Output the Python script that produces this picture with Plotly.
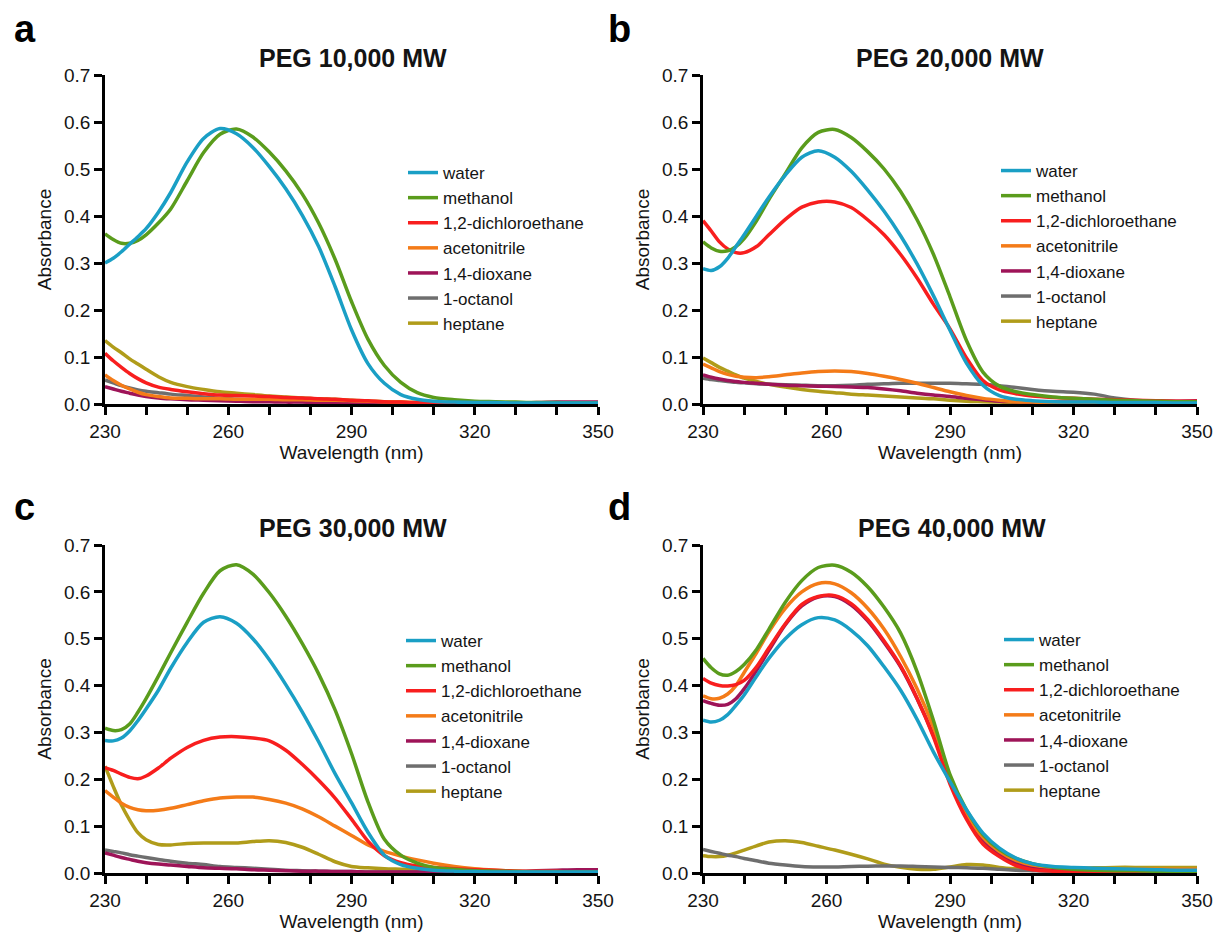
import plotly.graph_objects as go

# ---------------- data ----------------
WL = [230, 232, 234, 236, 238, 240, 243, 246, 250, 254, 258, 262, 266, 270, 274, 278,
      282, 286, 290, 294, 298, 302, 306, 310, 315, 320, 325, 330, 335, 340, 345, 350]

SOLVENTS = ["water", "methanol", "1,2-dichloroethane", "acetonitrile",
            "1,4-dioxane", "1-octanol", "heptane"]
COLORS = ["#1A9FC5", "#5A9C1C", "#F81E1E", "#F47B18", "#9E1458", "#6E6E6E", "#B09C1A"]

PANEL_TITLES = ["PEG 10,000 MW", "PEG 20,000 MW", "PEG 30,000 MW", "PEG 40,000 MW"]
PANEL_LETTERS = ["a", "b", "c", "d"]
X_TITLE = "Wavelength (nm)"
Y_TITLE = "Absorbance"

# PEG 10,000
water_a = [0.300, 0.310, 0.324, 0.340, 0.356, 0.373, 0.408, 0.450, 0.515, 0.565, 0.586, 0.575, 0.546, 0.505, 0.458, 0.402,
           0.335, 0.250, 0.158, 0.086, 0.044, 0.020, 0.010, 0.006, 0.004, 0.003, 0.003, 0.002, 0.002, 0.002, 0.002, 0.002]
methanol_a = [0.362, 0.350, 0.342, 0.342, 0.348, 0.360, 0.385, 0.415, 0.475, 0.535, 0.574, 0.585, 0.568, 0.536, 0.496, 0.447,
              0.385, 0.308, 0.218, 0.138, 0.082, 0.046, 0.024, 0.014, 0.009, 0.006, 0.005, 0.004, 0.003, 0.003, 0.002, 0.002]
dce_a = [0.108, 0.092, 0.078, 0.065, 0.054, 0.045, 0.036, 0.031, 0.026, 0.022, 0.019, 0.018, 0.017, 0.016, 0.014, 0.013,
         0.011, 0.010, 0.008, 0.007, 0.005, 0.004, 0.003, 0.003, 0.002, 0.002, 0.001, 0.001, 0.001, 0.001, 0.001, 0.001]
acn_a = [0.062, 0.050, 0.040, 0.032, 0.025, 0.020, 0.016, 0.013, 0.012, 0.011, 0.011, 0.010, 0.010, 0.010, 0.009, 0.009,
         0.008, 0.008, 0.007, 0.006, 0.005, 0.004, 0.003, 0.003, 0.002, 0.002, 0.002, 0.002, 0.002, 0.002, 0.002, 0.002]
diox_a = [0.037, 0.032, 0.027, 0.023, 0.019, 0.016, 0.013, 0.011, 0.009, 0.008, 0.007, 0.006, 0.005, 0.005, 0.004, 0.004,
          0.003, 0.003, 0.002, 0.002, 0.002, 0.002, 0.002, 0.002, 0.002, 0.002, 0.002, 0.002, 0.003, 0.004, 0.004, 0.004]
oct_a = [0.051, 0.045, 0.039, 0.034, 0.030, 0.027, 0.024, 0.021, 0.018, 0.015, 0.012, 0.010, 0.008, 0.007, 0.006, 0.005,
         0.004, 0.003, 0.003, 0.002, 0.002, 0.002, 0.002, 0.002, 0.002, 0.002, 0.002, 0.002, 0.002, 0.002, 0.002, 0.002]
hept_a = [0.135, 0.121, 0.109, 0.096, 0.085, 0.074, 0.058, 0.046, 0.037, 0.031, 0.026, 0.023, 0.020, 0.017, 0.015, 0.013,
          0.011, 0.010, 0.008, 0.006, 0.005, 0.004, 0.003, 0.003, 0.002, 0.002, 0.002, 0.002, 0.002, 0.002, 0.002, 0.002]

# PEG 20,000
water_b = [0.288, 0.284, 0.292, 0.310, 0.335, 0.360, 0.400, 0.440, 0.487, 0.525, 0.539, 0.525, 0.495, 0.455, 0.410, 0.358,
           0.298, 0.230, 0.157, 0.087, 0.040, 0.018, 0.010, 0.007, 0.005, 0.004, 0.004, 0.003, 0.003, 0.003, 0.002, 0.002]
methanol_b = [0.345, 0.332, 0.325, 0.326, 0.335, 0.352, 0.390, 0.435, 0.490, 0.545, 0.578, 0.584, 0.567, 0.537, 0.500, 0.452,
              0.392, 0.318, 0.228, 0.135, 0.068, 0.038, 0.026, 0.020, 0.015, 0.012, 0.010, 0.008, 0.007, 0.006, 0.005, 0.005]
dce_b = [0.390, 0.368, 0.345, 0.330, 0.322, 0.322, 0.335, 0.360, 0.393, 0.419, 0.430, 0.430, 0.418, 0.392, 0.360, 0.318,
         0.268, 0.212, 0.160, 0.098, 0.050, 0.030, 0.022, 0.017, 0.014, 0.012, 0.010, 0.009, 0.008, 0.007, 0.006, 0.006]
acn_b = [0.085, 0.077, 0.069, 0.063, 0.059, 0.057, 0.056, 0.058, 0.062, 0.066, 0.069, 0.070, 0.069, 0.065, 0.059, 0.052,
         0.044, 0.035, 0.026, 0.018, 0.012, 0.008, 0.005, 0.004, 0.003, 0.003, 0.003, 0.003, 0.003, 0.003, 0.004, 0.004]
diox_b = [0.062, 0.057, 0.053, 0.050, 0.048, 0.046, 0.044, 0.042, 0.040, 0.039, 0.038, 0.037, 0.036, 0.035, 0.032, 0.028,
          0.023, 0.019, 0.016, 0.012, 0.009, 0.006, 0.005, 0.004, 0.004, 0.004, 0.004, 0.005, 0.005, 0.006, 0.006, 0.007]
oct_b = [0.055, 0.052, 0.050, 0.048, 0.046, 0.045, 0.043, 0.042, 0.041, 0.040, 0.039, 0.039, 0.040, 0.042, 0.043, 0.044,
         0.044, 0.044, 0.044, 0.043, 0.042, 0.039, 0.035, 0.031, 0.027, 0.025, 0.021, 0.013, 0.008, 0.006, 0.005, 0.005]
hept_b = [0.098, 0.088, 0.078, 0.070, 0.062, 0.055, 0.048, 0.042, 0.036, 0.031, 0.027, 0.024, 0.021, 0.019, 0.017, 0.015,
          0.013, 0.011, 0.008, 0.006, 0.005, 0.004, 0.003, 0.003, 0.003, 0.003, 0.003, 0.003, 0.003, 0.003, 0.003, 0.003]

# PEG 30,000
water_c = [0.283, 0.282, 0.288, 0.303, 0.325, 0.350, 0.390, 0.437, 0.492, 0.535, 0.547, 0.533, 0.500, 0.455, 0.402, 0.344,
           0.280, 0.212, 0.150, 0.087, 0.038, 0.018, 0.010, 0.006, 0.004, 0.003, 0.002, 0.002, 0.002, 0.002, 0.002, 0.002]
methanol_c = [0.309, 0.304, 0.306, 0.318, 0.343, 0.372, 0.420, 0.470, 0.535, 0.597, 0.645, 0.658, 0.638, 0.598, 0.548, 0.490,
              0.425, 0.348, 0.255, 0.152, 0.072, 0.038, 0.021, 0.012, 0.008, 0.005, 0.004, 0.003, 0.002, 0.002, 0.002, 0.002]
dce_c = [0.225, 0.219, 0.211, 0.204, 0.201, 0.207, 0.224, 0.245, 0.268, 0.283, 0.290, 0.291, 0.288, 0.282, 0.262, 0.232,
         0.198, 0.160, 0.115, 0.068, 0.037, 0.022, 0.015, 0.012, 0.009, 0.007, 0.006, 0.004, 0.003, 0.003, 0.002, 0.002]
acn_c = [0.176, 0.162, 0.149, 0.140, 0.135, 0.133, 0.134, 0.138, 0.146, 0.154, 0.160, 0.162, 0.162, 0.157, 0.149, 0.137,
         0.120, 0.100, 0.080, 0.060, 0.046, 0.036, 0.028, 0.021, 0.014, 0.009, 0.006, 0.004, 0.003, 0.003, 0.002, 0.002]
diox_c = [0.043, 0.038, 0.033, 0.029, 0.025, 0.022, 0.019, 0.017, 0.014, 0.011, 0.010, 0.009, 0.007, 0.006, 0.005, 0.004,
          0.004, 0.003, 0.003, 0.002, 0.002, 0.002, 0.002, 0.002, 0.002, 0.002, 0.002, 0.003, 0.005, 0.006, 0.007, 0.007]
oct_c = [0.049, 0.046, 0.043, 0.039, 0.036, 0.033, 0.029, 0.025, 0.021, 0.018, 0.014, 0.012, 0.010, 0.008, 0.006, 0.005,
         0.004, 0.003, 0.003, 0.002, 0.002, 0.002, 0.002, 0.002, 0.002, 0.002, 0.002, 0.002, 0.002, 0.002, 0.002, 0.002]
hept_c = [0.228, 0.185, 0.145, 0.113, 0.086, 0.071, 0.061, 0.060, 0.063, 0.064, 0.064, 0.064, 0.067, 0.069, 0.065, 0.055,
          0.040, 0.024, 0.014, 0.011, 0.009, 0.008, 0.007, 0.006, 0.005, 0.004, 0.003, 0.003, 0.002, 0.002, 0.002, 0.002]

# PEG 40,000
water_d = [0.326, 0.322, 0.326, 0.338, 0.358, 0.380, 0.420, 0.458, 0.500, 0.530, 0.545, 0.540, 0.518, 0.485, 0.440, 0.390,
           0.328, 0.258, 0.195, 0.135, 0.085, 0.053, 0.032, 0.020, 0.014, 0.012, 0.010, 0.009, 0.008, 0.007, 0.006, 0.006]
methanol_d = [0.458, 0.438, 0.425, 0.422, 0.430, 0.445, 0.477, 0.520, 0.578, 0.624, 0.652, 0.657, 0.642, 0.611, 0.567, 0.512,
              0.430, 0.325, 0.210, 0.135, 0.082, 0.050, 0.031, 0.020, 0.012, 0.008, 0.006, 0.005, 0.005, 0.004, 0.004, 0.004]
dce_d = [0.415, 0.405, 0.400, 0.399, 0.402, 0.411, 0.440, 0.480, 0.532, 0.573, 0.590, 0.592, 0.575, 0.541, 0.495, 0.442,
         0.373, 0.290, 0.190, 0.115, 0.062, 0.035, 0.016, 0.007, 0.004, 0.003, 0.002, 0.002, 0.002, 0.002, 0.002, 0.002]
acn_d = [0.378, 0.372, 0.373, 0.382, 0.400, 0.428, 0.470, 0.515, 0.565, 0.600, 0.618, 0.617, 0.598, 0.565, 0.520, 0.462,
         0.393, 0.310, 0.205, 0.128, 0.076, 0.046, 0.027, 0.017, 0.012, 0.010, 0.009, 0.008, 0.008, 0.008, 0.008, 0.008]
diox_d = [0.368, 0.362, 0.358, 0.360, 0.372, 0.393, 0.432, 0.475, 0.530, 0.570, 0.589, 0.590, 0.572, 0.538, 0.492, 0.440,
          0.372, 0.293, 0.198, 0.122, 0.070, 0.040, 0.021, 0.012, 0.007, 0.005, 0.004, 0.003, 0.003, 0.003, 0.003, 0.003]
oct_d = [0.050, 0.046, 0.042, 0.038, 0.035, 0.031, 0.026, 0.021, 0.017, 0.014, 0.013, 0.013, 0.014, 0.0145, 0.015, 0.015,
         0.014, 0.013, 0.012, 0.011, 0.010, 0.008, 0.006, 0.005, 0.004, 0.004, 0.003, 0.003, 0.003, 0.003, 0.003, 0.003]
hept_d = [0.037, 0.035, 0.035, 0.038, 0.043, 0.049, 0.058, 0.066, 0.069, 0.065, 0.057, 0.049, 0.040, 0.030, 0.019, 0.012,
          0.008, 0.008, 0.013, 0.018, 0.017, 0.012, 0.009, 0.007, 0.008, 0.010, 0.011, 0.012, 0.012, 0.012, 0.012, 0.012]

PANELS = [
    [water_a, methanol_a, dce_a, acn_a, diox_a, oct_a, hept_a],
    [water_b, methanol_b, dce_b, acn_b, diox_b, oct_b, hept_b],
    [water_c, methanol_c, dce_c, acn_c, diox_c, oct_c, hept_c],
    [water_d, methanol_d, dce_d, acn_d, diox_d, oct_d, hept_d],
]

# ---------------- layout geometry (pixels of a 1217x932 page) ----------------
W, H = 1217, 932
FONT = "Liberation Sans, Arial, sans-serif"
TXT = "#141414"

def px(x):
    return x / W

def py(y):
    return 1 - y / H

# plot areas: (left, right, top, bottom)
AREAS = [(105, 598, 75, 404), (703, 1197, 75, 404),
         (105, 598, 545, 873), (703, 1197, 545, 873)]
TITLE_POS = [(353, 58), (950, 58), (353, 528), (952, 528)]
LETTER_POS = [(12, 29), (606, 29), (12, 507), (606, 507)]
LEGEND_POS = [(403, 155), (996, 153), (401, 623), (999, 622)]

fig = go.Figure()

for p, series in enumerate(PANELS):
    suffix = "" if p == 0 else str(p + 1)
    for i in reversed(range(len(SOLVENTS))):
        fig.add_trace(go.Scatter(
            x=WL, y=series[i], mode="lines", name=SOLVENTS[i],
            line=dict(color=COLORS[i], width=3.5, shape="spline", smoothing=0.8),
            xaxis="x" + suffix, yaxis="y" + suffix,
            legend="legend" + suffix, legendrank=i + 1,
            hoverinfo="skip",
        ))

layout = dict(
    width=W, height=H,
    margin=dict(l=0, r=0, t=0, b=0),
    paper_bgcolor="white", plot_bgcolor="white",
    font=dict(family=FONT, color=TXT, size=18),
    annotations=[],
)

for p in range(4):
    l, r, t, b = AREAS[p]
    suffix = "" if p == 0 else str(p + 1)
    layout["xaxis" + suffix] = dict(
        domain=[px(l), px(r)], anchor="y" + suffix, range=[230, 350],
        tick0=230, dtick=30, ticks="outside", ticklen=8, tickwidth=2.5, tickcolor="black",
        minor=dict(dtick=10, ticks="outside", ticklen=8, tickwidth=2.5, tickcolor="black"),
        showline=True, linecolor="black", linewidth=2.5, showgrid=False, zeroline=False,
        tickfont=dict(size=19, family=FONT, color=TXT),
        title=dict(text=X_TITLE, font=dict(size=19, family=FONT, color=TXT), standoff=4),
        automargin=False, fixedrange=True,
    )
    layout["yaxis" + suffix] = dict(
        domain=[py(b), py(t)], anchor="x" + suffix, range=[0, 0.7],
        tick0=0, dtick=0.1, tickformat=".1f", ticks="outside", ticklen=8, tickwidth=2.5,
        tickcolor="black",
        showline=True, linecolor="black", linewidth=2.5, showgrid=False, zeroline=False,
        tickfont=dict(size=19, family=FONT, color=TXT),
        title=dict(text=Y_TITLE, font=dict(size=19, family=FONT, color=TXT), standoff=8),
        automargin=False, fixedrange=True,
    )
    lx, ly = LEGEND_POS[p]
    layout["legend" + suffix] = dict(
        x=px(lx), y=py(ly), xanchor="left", yanchor="top",
        bgcolor="rgba(0,0,0,0)", borderwidth=0,
        font=dict(size=17, family=FONT, color=TXT),
        itemwidth=30, tracegroupgap=0,
    )
    tx, ty = TITLE_POS[p]
    layout["annotations"].append(dict(
        text="<b>" + PANEL_TITLES[p] + "</b>", x=px(tx), y=py(ty),
        xref="paper", yref="paper", xanchor="center", yanchor="middle",
        showarrow=False, font=dict(size=25, family=FONT, color=TXT),
    ))
    gx, gy = LETTER_POS[p]
    layout["annotations"].append(dict(
        text="<b>" + PANEL_LETTERS[p] + "</b>", x=px(gx), y=py(gy),
        xref="paper", yref="paper", xanchor="left", yanchor="middle",
        showarrow=False, font=dict(size=38, family=FONT, color="black"),
    ))

fig.update_layout(**layout)
fig.write_html(
    "out.html",
    config={"displayModeBar": False},
    post_script="document.body.style.margin='0px';document.body.style.padding='0px';"
                "document.documentElement.style.overflow='hidden';",
)
